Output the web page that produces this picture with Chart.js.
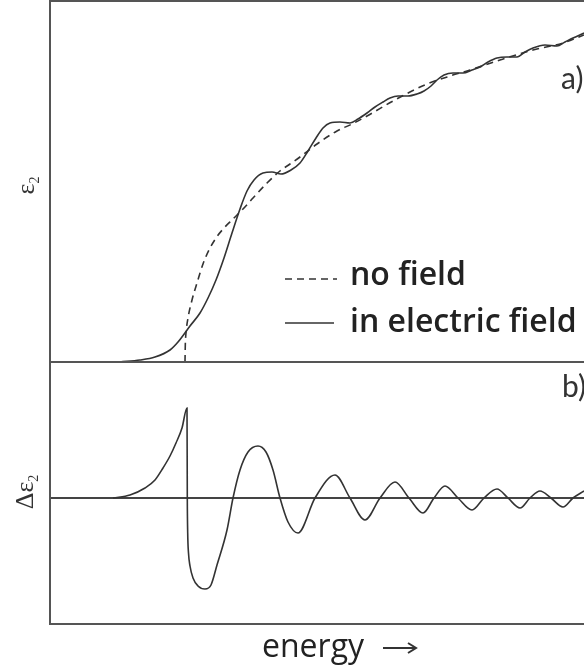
<!DOCTYPE html>
<html>
<head>
<meta charset="utf-8">
<script src="https://cdn.jsdelivr.net/npm/chart.js@4.4.1/dist/chart.umd.min.js"></script>
<style>
    body { margin: 0; background: #fff; }
    canvas { display: block; }
</style>
</head>
<body>
<canvas id="myChart" width="584" height="668"></canvas>
<script>
// energy axis and curves in arbitrary units
// a) eps2 without field (dashed)
var noFieldE = [135, 135.3, 136, 138, 142, 147, 153, 159, 166, 174, 183, 193, 203, 217, 230, 240, 250, 267, 287, 302, 317, 343, 360, 377, 400, 420, 450, 483, 513, 534];
var noFieldEps2 = [0, 17, 29, 44, 62, 79, 98, 112, 124, 134, 143, 153, 164, 179, 191, 198, 205, 218, 231, 238, 246, 261, 270, 278, 286, 292, 302, 312, 319, 327];

// a) eps2 in electric field (solid)
var fieldE = [70, 90, 105, 120, 128, 140, 150, 158, 166, 174, 182, 190, 197, 204, 213, 222, 231, 241, 250, 258, 266, 273, 280, 290, 300, 308, 317, 325, 333, 340, 348, 358, 367, 374, 381, 387, 394, 403, 413, 422, 430, 438, 447, 457, 467, 475, 483, 495, 507, 515, 523, 534];
var fieldEps2 = [0, 2, 5, 12, 20, 36, 49, 64, 82, 104, 129, 153, 171, 182, 189, 190, 188, 192, 199, 211, 224, 234, 239, 240, 239, 243, 249, 255, 260, 264, 266, 266, 268, 271, 276, 282, 287, 289, 289, 292, 295, 300, 304, 305, 305, 310, 314, 317, 316, 320, 324, 329];

// b) difference spectrum
var diffE = [63, 80, 95, 105, 113, 120, 126, 132, 137, 137.3, 137.7, 138.5, 140, 143, 148, 155, 161, 167, 177, 183, 190, 198, 208, 216, 223, 230, 238, 248, 265, 285, 300, 315, 330, 345, 359, 373, 384, 395, 408, 422, 434, 447, 458, 470, 480, 490, 501, 513, 523, 534];
var diffEps2 = [0, 3, 10, 18, 30, 42, 55, 70, 90, 0, -35, -55, -68, -80, -88, -91, -87, -67, -32, 0, 28, 46, 52, 46, 28, 0, -24, -35, 0, 23, 0, -22, 0, 16, 0, -15, 0, 12, 0, -12, 0, 9, 0, -10, 0, 7, 0, -9, 0, 7];

var eRange = [0, 534];
var epsRange = [0, 361];
var diffRange = [-126, 136];

function toPoints(xs, ys) {
    return xs.map(function (x, i) { return { x: x, y: ys[i] }; });
}

var ink = '#333';
var frameColor = '#555';

var framePlugin = {
    id: 'frame',
    afterDatasetsDraw: function (chart) {
        var ctx = chart.ctx;
        var area = chart.chartArea;
        var yTop = chart.scales.y;
        var yBot = chart.scales.y2;
        var right = chart.width + 5;

        ctx.save();
        ctx.strokeStyle = frameColor;
        ctx.lineWidth = 2;
        ctx.beginPath();
        ctx.moveTo(right, area.top);
        ctx.lineTo(area.left, area.top);
        ctx.lineTo(area.left, yBot.bottom);
        ctx.lineTo(right, yBot.bottom);
        ctx.moveTo(area.left, yTop.bottom);
        ctx.lineTo(right, yTop.bottom);
        ctx.stroke();

        // y labels
        ctx.fillStyle = '#333';
        ctx.textBaseline = 'alphabetic';
        function rotLabel(cx, cy, main) {
            ctx.save();
            ctx.translate(cx, cy);
            ctx.rotate(-Math.PI / 2);
            ctx.font = '26px "Liberation Serif"';
            var w1 = ctx.measureText(main).width;
            ctx.font = '14px "Liberation Serif"';
            var w2 = ctx.measureText('2').width;
            var x0 = -(w1 + w2) / 2;
            ctx.font = '26px "Liberation Serif"';
            ctx.textAlign = 'left';
            ctx.fillText(main, x0, 9);
            ctx.font = '14px "Liberation Serif"';
            ctx.fillText('2', x0 + w1, 14);
            ctx.restore();
        }
        rotLabel(25, (yTop.top + yTop.bottom) / 2 + 4, '\u03b5');
        rotLabel(24, yBot.getPixelForValue(0) - 6, '\u0394\u03b5');

        // panel letters
        ctx.font = '30px Lato';
        ctx.textAlign = 'left';
        ctx.fillText('a)', 561, 89);
        ctx.fillText('b)', 562, 397);

        // legend
        ctx.strokeStyle = ink;
        ctx.lineWidth = 1.6;
        ctx.setLineDash([7, 5]);
        ctx.beginPath();
        ctx.moveTo(285, 279);
        ctx.lineTo(337, 279);
        ctx.stroke();
        ctx.setLineDash([]);
        ctx.beginPath();
        ctx.moveTo(285, 323);
        ctx.lineTo(334, 323);
        ctx.stroke();
        ctx.fillStyle = '#222';
        ctx.font = '600 32px "Open Sans"';
        ctx.fillText('no field', 350, 285);
        ctx.fillText('in electric field', 350, 332);

        // x label
        ctx.font = '32px "Open Sans"';
        ctx.fillText('energy', 262, 657);
        ctx.lineWidth = 2;
        ctx.beginPath();
        ctx.moveTo(383, 648);
        ctx.lineTo(416, 648);
        ctx.moveTo(408, 643);
        ctx.lineTo(416, 648);
        ctx.lineTo(408, 653);
        ctx.stroke();
        ctx.restore();
    }
};

var ctx = document.getElementById('myChart').getContext('2d');
var myChart = new Chart(ctx, {
    type: 'line',
    data: {
        datasets: [
            {
                label: 'no field',
                data: toPoints(noFieldE, noFieldEps2),
                yAxisID: 'y',
                borderColor: ink,
                borderWidth: 1.6,
                borderDash: [7, 5],
                pointRadius: 0,
                cubicInterpolationMode: 'monotone',
                fill: false
            },
            {
                label: 'in electric field',
                data: toPoints(fieldE, fieldEps2),
                yAxisID: 'y',
                borderColor: ink,
                borderWidth: 1.6,
                pointRadius: 0,
                cubicInterpolationMode: 'monotone',
                fill: false
            },
            {
                label: 'difference',
                data: toPoints(diffE, diffEps2),
                yAxisID: 'y2',
                borderColor: ink,
                borderWidth: 1.6,
                pointRadius: 0,
                cubicInterpolationMode: 'monotone',
                fill: false
            },
            {
                label: 'zero',
                data: toPoints(eRange, [0, 0]),
                yAxisID: 'y2',
                borderColor: '#444',
                borderWidth: 1.8,
                pointRadius: 0,
                fill: false
            }
        ]
    },
    options: {
        responsive: false,
        animation: false,
        layout: {
            padding: { left: 50, top: 1, right: 0, bottom: 44 }
        },
        plugins: {
            legend: { display: false },
            tooltip: { enabled: false }
        },
        scales: {
            x: {
                type: 'linear',
                display: false,
                min: eRange[0],
                max: eRange[1]
            },
            y: {
                type: 'linear',
                display: false,
                position: 'left',
                stack: 'panels',
                stackWeight: 361,
                weight: 2,
                min: epsRange[0],
                max: epsRange[1]
            },
            y2: {
                type: 'linear',
                display: false,
                position: 'left',
                stack: 'panels',
                stackWeight: 262,
                weight: 1,
                min: diffRange[0],
                max: diffRange[1]
            }
        }
    },
    plugins: [framePlugin]
});
</script>
</body>
</html>
